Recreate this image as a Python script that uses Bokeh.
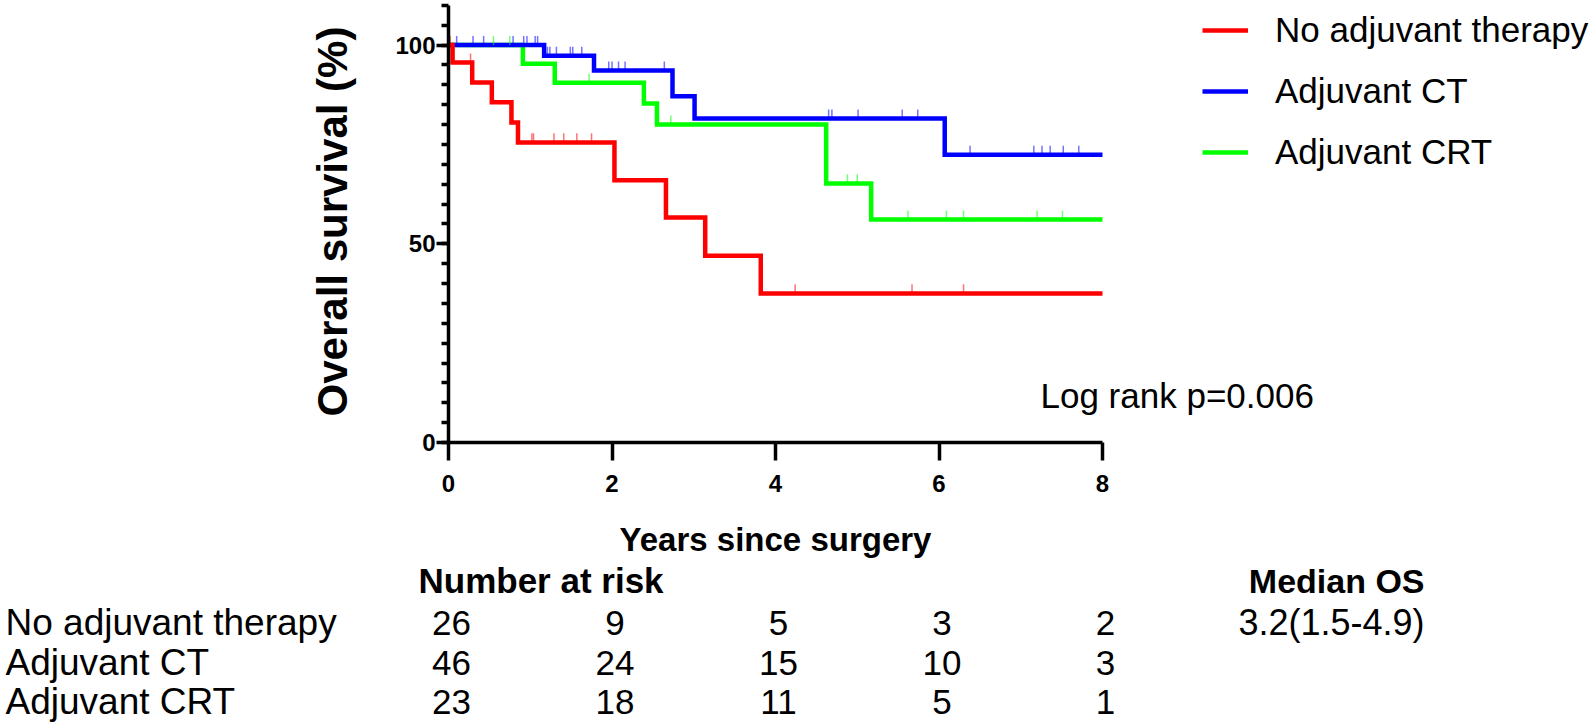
import numpy as np
from bokeh.plotting import figure
from bokeh.layouts import column
from bokeh.models import Range1d, FixedTicker, Label, Legend, LegendItem
from bokeh.core.properties import value
from bokeh.embed import file_html
from bokeh.resources import INLINE

# ---------------- data ----------------
group_names = ["No adjuvant therapy", "Adjuvant CT", "Adjuvant CRT"]
group_colors = ["#ff0000", "#0000ff", "#00ff00"]

none_times = [0.05, 0.29, 0.53, 0.77, 0.85, 2.03, 2.66, 3.14, 3.82]
none_surv = [95.6, 90.6, 85.6, 80.5, 75.5, 66.0, 56.6, 47.0, 37.5]
none_cens = [0.02, 0.27, 1.02, 1.04, 1.29, 1.41, 1.57, 1.75, 4.24, 5.67, 6.30]

ct_times = [1.17, 1.78, 2.74, 3.01, 6.07]
ct_surv = [97.3, 93.6, 87.1, 81.5, 72.4]
ct_cens = [0.10, 0.30, 0.43, 0.79, 0.92, 0.96, 1.06, 1.09, 1.21, 1.24, 1.32,
           1.49, 1.52, 1.63, 1.96, 2.00, 2.08, 2.16, 2.64, 4.65, 4.69, 5.01,
           5.55, 5.74, 6.38, 7.16, 7.26, 7.36, 7.52, 7.71]

crt_times = [0.91, 1.30, 2.39, 2.55, 4.62, 5.17]
crt_surv = [95.3, 90.5, 85.3, 80.0, 65.2, 56.1]
crt_cens = [0.55, 0.75, 1.72, 2.72, 4.88, 5.00, 5.62, 6.09, 6.30, 7.20, 7.51]

follow_up_end = 8
x_ticks = [0, 2, 4, 6, 8]
y_ticks = [0, 50, 100]
y_minor_ticks = list(range(0, 111, 5))
y_axis_top = 110

risk_years = [0, 2, 4, 6, 8]
risk_none = [26, 9, 5, 3, 2]
risk_ct = [46, 24, 15, 10, 3]
risk_crt = [23, 18, 11, 5, 1]
median_os_none = "3.2(1.5-4.9)"
p_value_text = "Log rank p=0.006"

FONT = "Liberation Sans"

# ---------------- layout geometry (pixels) ----------------
W = 1590
H_TOP = 512
H_BOT = 212
FRAME_LEFT = 448
FRAME_H = 442
PX_PER_YEAR = 81.75
PX_PER_PCT = 3.974
BASE_SHIFT = 0.36  # text anchor -> visual centre correction (em)

def px_to_year(px):
    return (px - FRAME_LEFT) / PX_PER_YEAR

x_end = px_to_year(W)

# ---------------- KM figure ----------------
p = figure(width=W, height=H_TOP, x_range=Range1d(0, x_end),
           y_range=Range1d(0, FRAME_H / PX_PER_PCT),
           output_backend="svg", toolbar_location=None,
           min_border_left=FRAME_LEFT, min_border_right=0, min_border_top=0,
           min_border_bottom=H_TOP - FRAME_H)
p.outline_line_color = None
p.xgrid.visible = False
p.ygrid.visible = False
p.background_fill_color = "white"
p.border_fill_color = "white"

series = [
    (none_times, none_surv, none_cens),
    (ct_times, ct_surv, ct_cens),
    (crt_times, crt_surv, crt_cens),
]

renderers = {}
draw_order = [2, 1, 0]
for gi in draw_order:
    times, surv, cens = series[gi]
    xs = [0] + list(times) + [follow_up_end]
    ys = [100] + list(surv) + [surv[-1]]
    r = p.step(xs, ys, mode="after", line_width=4.5, line_color=group_colors[gi],
               line_join="miter")
    renderers[gi] = r

for gi in draw_order:
    times, surv, cens = series[gi]
    levels_all = np.array([100] + list(surv))
    idx = np.searchsorted(np.array(times), np.array(cens), side="right")
    lv = levels_all[idx]
    p.segment(x0=cens, y0=lv, x1=cens, y1=lv + 2.3, line_color=group_colors[gi],
              line_alpha=0.55, line_width=1.5)

# axes
p.xaxis.ticker = FixedTicker(ticks=x_ticks)
p.yaxis.ticker = FixedTicker(ticks=y_ticks, minor_ticks=y_minor_ticks)
p.xaxis.bounds = (0, follow_up_end)
p.yaxis.bounds = (0, y_axis_top)
for ax in (p.xaxis[0], p.yaxis[0]):
    ax.axis_line_width = 3.5
    ax.axis_line_color = "black"
    ax.major_tick_line_width = 3.5
    ax.major_tick_line_color = "black"
    ax.minor_tick_line_width = 3.5
    ax.minor_tick_line_color = "black"
    ax.major_tick_in = 0
    ax.minor_tick_in = 0
    ax.major_label_text_font = FONT
    ax.major_label_text_font_style = "bold"
    ax.major_label_text_font_size = "24px"
    ax.major_label_text_color = "black"
    ax.axis_label_text_font = FONT
    ax.axis_label_text_font_style = "bold"
    ax.axis_label_text_color = "black"

p.xaxis.major_tick_out = 18
p.xaxis.minor_tick_out = 0
p.xaxis.major_label_standoff = 14

p.yaxis.major_tick_out = 12
p.yaxis.minor_tick_out = 7
p.yaxis.major_label_standoff = 1
p.yaxis.axis_label = "Overall survival (%)"
p.yaxis.axis_label_text_font_size = "42px"
p.yaxis.axis_label_standoff = 36

# legend
legend = Legend(items=[LegendItem(label=group_names[i], renderers=[renderers[i]]) for i in range(3)],
                location=(754, 270), orientation="vertical")
legend.label_text_font = FONT
legend.label_text_font_size = "35px"
legend.label_text_color = "black"
legend.glyph_width = 46
legend.glyph_height = 38
legend.label_height = 38
legend.label_standoff = 27
legend.spacing = 21
legend.padding = 0
legend.margin = 0
legend.border_line_color = None
legend.background_fill_alpha = 0
p.add_layout(legend)

LOG_SIZE = 35
p.add_layout(Label(x=1040 - FRAME_LEFT, y=FRAME_H - (408 - BASE_SHIFT * LOG_SIZE),
                   x_units="screen", y_units="screen", text=p_value_text,
                   text_font=FONT, text_font_size=f"{LOG_SIZE}px", text_color="black",
                   text_baseline="alphabetic", text_align="left"))

# ---------------- table figure (x aligned with KM years) ----------------
t = figure(width=W, height=H_BOT, x_range=Range1d(px_to_year(0), x_end),
           y_range=Range1d(H_TOP + H_BOT, H_TOP),
           output_backend="svg", toolbar_location=None,
           x_axis_type=None, y_axis_type=None,
           min_border_left=0, min_border_right=0, min_border_top=0, min_border_bottom=0)
t.outline_line_color = None
t.xgrid.visible = False
t.ygrid.visible = False
t.border_fill_color = "white"

for fig in (p, t):
    try:
        fig.frame_align = False
    except Exception:
        pass

def txt(x, baseline, s, size, bold=False, align="left", x_offset=0):
    t.text(x=[x], y=[baseline - BASE_SHIFT * size], text=[s], text_font=value(FONT),
           text_font_size=value(f"{size}px"),
           text_font_style="bold" if bold else "normal", text_align=align,
           text_baseline="alphabetic", text_color="black", x_offset=x_offset)

txt(follow_up_end / 2, 551, "Years since surgery", 33, bold=True, align="center")
txt(px_to_year(418), 593, "Number at risk", 35, bold=True)
txt(px_to_year(1424), 593, "Median OS", 34, bold=True, align="right")

row_base = [635, 675, 714]
risk_rows = [risk_none, risk_ct, risk_crt]
for name, yb, vals in zip(group_names, row_base, risk_rows):
    txt(px_to_year(5), yb, name, 37)
    for yr, v in zip(risk_years, vals):
        txt(yr, yb, str(v), 35, align="center", x_offset=3)
txt(px_to_year(1424), row_base[0], median_os_none, 36, align="right")

layout = column(p, t, spacing=0)
open("out.html", "w").write(file_html(layout, INLINE))
